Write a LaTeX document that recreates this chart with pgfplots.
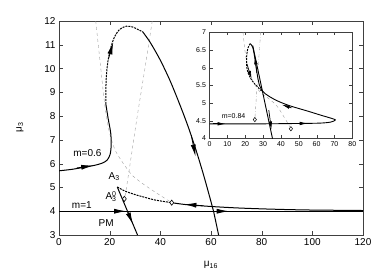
\documentclass[border=0pt]{standalone}
\usepackage{pgfplots}
\pgfplotsset{compat=1.18}
\usepackage{fontspec}
\setmainfont{Liberation Sans}
\usetikzlibrary{arrows.meta}
\begin{document}
\begin{tikzpicture}[x=1pt,y=1pt]
\path[use as bounding box] (0,0) rectangle (390,277);
\begin{axis}[at={(59pt,42pt)}, anchor=south west, scale only axis,
  width=304pt, height=214pt, xmin=0, xmax=120, ymin=3, ymax=12,
  xtick={0,20,...,120}, ytick={3,...,12}, tick align=inside,
  major tick length=4pt, axis line style={black!75}, tick style={black!75},
  ticklabel style={font=\fontsize{10}{12}\selectfont},
  /pgf/number format/assume math mode=true]
% thin gray guide curves
\addplot[gray!75, thin, dashed, smooth] coordinates {(14.5,12) (15.5,11) (16.5,10) (17.5,9) (18.4,8.2) (19.5,7.5) (21,6.9) (22.5,6.5) (24.5,6.15) (26.3,5.87) (29,5.5) (32.9,5.17) (38,4.8) (44.5,4.36)};
\addplot[gray!75, thin, dashed, smooth] coordinates {(36.8,12) (34.5,10.4) (32.4,9) (30.6,7.8) (28.5,6.3) (26.5,4.9) (25.8,4.52)};
% m=0.6 trajectory
\addplot[black, line width=1pt, smooth] coordinates {(0,5.70) (5,5.76) (10,5.85) (14,5.93) (17,6.02) (19,6.15) (20.2,6.4) (20.6,6.8) (20.4,7.3) (19.4,7.9) (18.5,8.5)};
\addplot[black, line width=1pt, dash pattern=on 2pt off 1pt, smooth] coordinates {(18.5,8.5) (18.6,9.5) (19.3,10.3) (20.5,10.9) (22,11.35) (24,11.65) (26.5,11.78) (29,11.75) (31,11.65) (33,11.55)};
\addplot[black, line width=1pt, smooth] coordinates {(33,11.55) (36,11.1) (40,10.35) (44,9.45) (48,8.4) (51,7.55) (54,6.6) (57,5.55) (60,4.4) (61,4.0) (63,3.0)};
% A3 trajectories
\addplot[black, line width=1pt, dash pattern=on 2pt off 1pt, smooth] coordinates {(23,5.02) (26,4.85) (30,4.70) (33,4.61) (38,4.47) (44.5,4.36)};
\addplot[black, line width=1pt, smooth] coordinates {(44.5,4.36) (50,4.28) (60,4.2) (70,4.14) (80,4.1) (90,4.07) (100,4.05) (120,4.03)};
\addplot[black, line width=1pt] coordinates {(23,5.02) (31,3.0)};
% m=1
\addplot[black, line width=1pt] coordinates {(0,4.0) (120,4.0)};
% arrows
\addplot[black, line width=0.8pt, -{Latex[length=12pt,width=5pt]}] coordinates {(7,5.82) (13.5,5.92)};
\addplot[black, line width=0.8pt, -{Latex[length=12pt,width=5pt]}] coordinates {(19.5,10.4) (21.4,11.1)};
\addplot[black, line width=0.8pt, -{Latex[length=12pt,width=5pt]}] coordinates {(52.2,7.2) (53.9,6.3)};
\addplot[black, line width=0.8pt, -{Latex[length=12pt,width=5pt]}] coordinates {(57,4.23) (49.5,4.29)};
\addplot[black, line width=0.8pt, -{Latex[length=12pt,width=5pt]}] coordinates {(19,4.0) (26.5,4.0)};
\addplot[black, line width=0.8pt, -{Latex[length=12pt,width=5pt]}] coordinates {(59,4.0) (67,4.0)};
\addplot[black, line width=0.8pt, -{Latex[length=12pt,width=5pt]}] coordinates {(27.0,4.0) (29.2,3.45)};
% diamonds
\addplot[only marks, mark=diamond*, mark size=2.6pt, mark options={fill=white, draw=black, line width=0.6pt}] coordinates {(25.8,4.52) (44.5,4.36)};
% labels
\node[font=\fontsize{10}{12}\selectfont] at (axis cs:11.2,6.45) {m=0.6};
\node[font=\fontsize{10}{12}\selectfont] at (axis cs:9,4.28) {m=1};
\node[font=\fontsize{10}{12}\selectfont] at (axis cs:18.6,3.5) {PM};
\node[font=\fontsize{10}{12}\selectfont] at (axis cs:21.8,5.45) {A\textsubscript{3}};
\node[font=\fontsize{10}{12}\selectfont, anchor=east, inner sep=1pt] at (axis cs:23.2,4.62) {A\rlap{\textsuperscript{0}}\textsubscript{3}};
\end{axis}
\node[font=\fontsize{10}{12}\selectfont] at (211,12) {μ\textsubscript{16}};
\node[font=\fontsize{10}{12}\selectfont, rotate=90] at (20,150) {μ\textsubscript{3}};
% inset
\begin{axis}[at={(209.5pt,138.7pt)}, anchor=south west, scale only axis,
  width=142.8pt, height=106pt, xmin=0, xmax=80, ymin=4, ymax=7,
  xtick={0,10,...,80}, ytick={4,4.5,...,7}, tick align=inside,
  major tick length=3pt, axis line style={black!75}, tick style={black!75},
  axis background/.style={fill=white},
  ticklabel style={font=\fontsize{7}{8}\selectfont},
  /pgf/number format/assume math mode=true]
\addplot[gray!75, thin, dashed, smooth] coordinates {(18.8,7.0) (19.8,6.5) (21.5,6.0) (24.5,5.6) (28.5,5.3) (33.8,5.1) (38,4.9) (43,4.5) (45.6,4.27)};
\addplot[gray!75, thin, dash dot, smooth] coordinates {(28.7,7.0) (27.8,6.4) (26.8,5.6) (25.9,4.9) (25.4,4.53)};
\addplot[black, line width=0.9pt, smooth] coordinates {(0,4.41) (30,4.41) (50,4.42) (62,4.43) (68,4.46) (70.5,4.52) (68,4.57) (62,4.66) (55,4.77) (45,4.92) (38,5.06) (33,5.2) (30,5.32) (28,5.5) (26.6,5.85) (25.3,6.3) (24.2,6.58) (22.8,6.68)};
\addplot[black, line width=0.9pt, dash pattern=on 2pt off 1pt, smooth] coordinates {(22.8,6.68) (21.5,6.55) (20.8,6.3) (20.9,6.0) (22,5.8) (24,5.62) (27,5.45) (30,5.3)};
\addplot[black, line width=0.9pt] coordinates {(24.2,6.63) (35.3,3.99)};
\addplot[black, line width=0.7pt, -{Latex[length=8pt,width=3.5pt]}] coordinates {(26.5,5.85) (25.5,6.32)};
\addplot[black, line width=0.7pt, -{Latex[length=8pt,width=3.5pt]}] coordinates {(21.0,6.1) (23.6,5.68)};
\addplot[black, line width=0.7pt, -{Latex[length=8pt,width=3.5pt]}] coordinates {(33.2,4.8) (34.7,4.25)};
\addplot[black, line width=0.7pt, -{Latex[length=8pt,width=3.5pt]}] coordinates {(46,4.86) (40.5,4.95)};
\addplot[black, line width=0.7pt, -{Latex[length=8pt,width=3.5pt]}] coordinates {(2,4.41) (9,4.41)};
\addplot[black, line width=0.7pt, -{Latex[length=8pt,width=3.5pt]}] coordinates {(48,4.42) (55,4.42)};
\addplot[only marks, mark=diamond*, mark size=2.2pt, mark options={fill=white, draw=black, line width=0.5pt}] coordinates {(25.4,4.53) (45.6,4.27)};
\node[font=\fontsize{7}{8}\selectfont] at (axis cs:13.5,4.62) {m=0.84};
\end{axis}
\end{tikzpicture}
\end{document}
